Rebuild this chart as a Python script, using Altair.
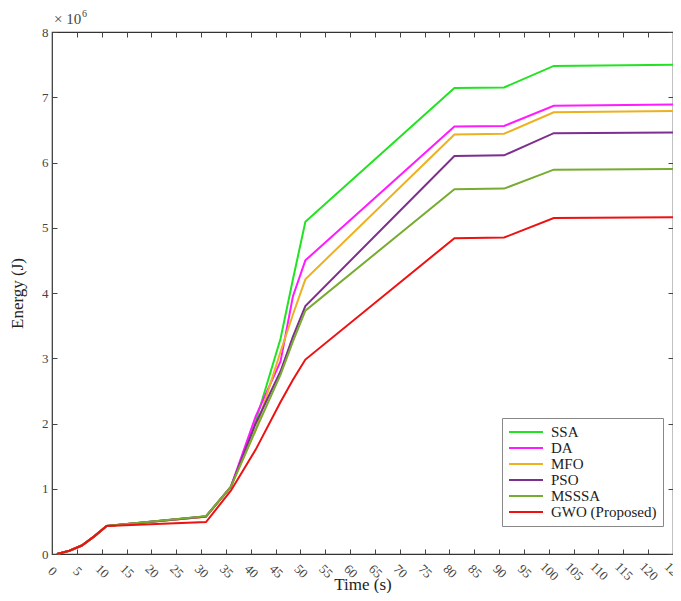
import altair as alt
import pandas as pd

# ---- data (energy in units of 10^6 J) ----
times = [1, 3.5, 6, 8.5, 11, 31, 36, 41, 46, 48.5, 51, 81, 91, 101, 125]
series_names = ["SSA", "DA", "MFO", "PSO", "MSSSA", "GWO (Proposed)"]
ssa   = [0, 0.05, 0.13, 0.27, 0.43, 0.58, 1.03, 2.03, 3.30, 4.21, 5.09, 7.14, 7.15, 7.48, 7.50]
da    = [0, 0.05, 0.13, 0.27, 0.43, 0.575, 1.03, 2.11, 2.95, 3.95, 4.50, 6.55, 6.56, 6.87, 6.89]
mfo   = [0, 0.05, 0.13, 0.27, 0.43, 0.57, 1.03, 1.90, 3.10, 3.67, 4.21, 6.43, 6.44, 6.77, 6.79]
pso   = [0, 0.05, 0.13, 0.27, 0.43, 0.575, 1.03, 2.00, 2.80, 3.33, 3.80, 6.10, 6.11, 6.45, 6.46]
msssa = [0, 0.05, 0.13, 0.27, 0.43, 0.58, 1.03, 1.90, 2.75, 3.26, 3.73, 5.59, 5.60, 5.89, 5.90]
gwo   = [0, 0.05, 0.13, 0.27, 0.43, 0.49, 0.97, 1.60, 2.33, 2.67, 2.98, 4.84, 4.85, 5.15, 5.16]
colors = ["#22e322", "#ff1aff", "#edb120", "#7e2f8e", "#77ac30", "#ee1111"]
x_ticks = list(range(0, 130, 5))
y_ticks = list(range(0, 9))

rows = []
for name, vals in zip(series_names, [ssa, da, mfo, pso, msssa, gwo]):
    for t, v in zip(times, vals):
        rows.append({"Time": t, "Energy": v, "Series": name})
df = pd.DataFrame(rows)

FONT = "Liberation Serif"
x_scale = alt.Scale(domain=[0, 125], nice=False, zero=False)
y_scale = alt.Scale(domain=[0, 8], nice=False)
color_scale = alt.Scale(domain=series_names, range=colors)

common_axis = dict(domain=False, tickSize=5, offset=-5, tickColor="#444", tickWidth=1,
                   grid=False, labelFont=FONT, labelColor="#444", titleFont=FONT,
                   titleColor="#222", titleFontWeight="normal", labelFlush=False,
                   labelOverlap=False)

lines = alt.Chart(df).mark_line(strokeWidth=2).encode(
    x=alt.X("Time:Q", scale=x_scale,
            axis=alt.Axis(values=x_ticks, title="Time (s)", labelAngle=45, labelAlign="center",
                          labelBaseline="middle", labelPadding=17, labelFontSize=13,
                          titleFontSize=17, titleBaseline="alphabetic", titleY=40,
                          **common_axis)),
    y=alt.Y("Energy:Q", scale=y_scale,
            axis=alt.Axis(values=y_ticks, title="Energy (J)", labelFontSize=13, labelPadding=4,
                          titleFontSize=17, titlePadding=15, **common_axis)),
    color=alt.Color("Series:N", scale=color_scale, sort=series_names,
                    legend=alt.Legend(title=None, orient="none", legendX=450, legendY=386,
                                      fillColor="white", strokeColor="#888", padding=6,
                                      labelFont=FONT, labelFontSize=15, labelColor="#222",
                                      symbolType="stroke", symbolSize=1156, symbolStrokeWidth=2,
                                      clipHeight=16, rowPadding=0, labelOffset=7, labelLimit=300)),
)

mirror = alt.Chart(df).mark_point(opacity=0, size=1).encode(
    x=alt.X("Time:Q", scale=x_scale,
            axis=alt.Axis(orient="top", values=x_ticks, labels=False, title=None, **common_axis)),
    y=alt.Y("Energy:Q", scale=y_scale,
            axis=alt.Axis(orient="right", values=y_ticks, labels=False, title=None, **common_axis)),
)

expo_base = alt.Chart(pd.DataFrame({"txt": ["× 10"]})).mark_text(
    align="left", baseline="alphabetic", font=FONT, fontSize=15, color="#444"
).encode(x=alt.value(2), y=alt.value(-8), text="txt:N")
expo_six = alt.Chart(pd.DataFrame({"txt": ["6"]})).mark_text(
    align="left", baseline="alphabetic", font=FONT, fontSize=10, color="#444"
).encode(x=alt.value(30), y=alt.value(-15), text="txt:N")

chart = alt.layer(lines, mirror, expo_base, expo_six).resolve_axis(
    x="independent", y="independent"
).properties(
    width=621, height=522, autosize="none",
    padding={"left": 44, "top": 24, "right": 0, "bottom": 39},
    background="white",
).configure_view(stroke="#333", strokeWidth=1.2)

chart.save("out.html", embed_options={"renderer": "svg", "actions": False})
